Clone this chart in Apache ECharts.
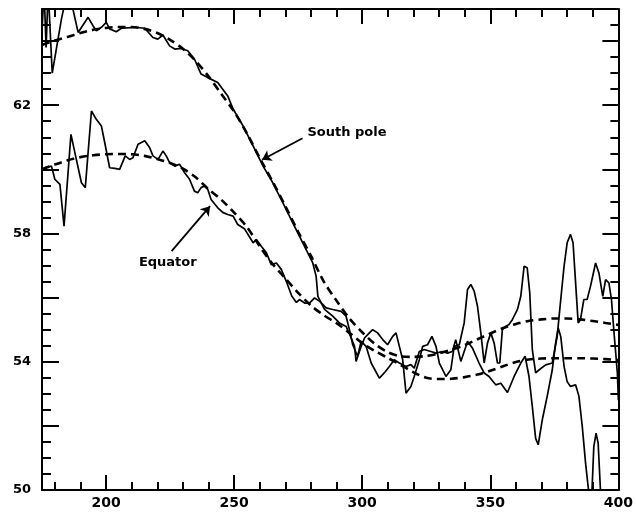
<!DOCTYPE html>
<html>
<head>
<meta charset="utf-8">
<script src="https://cdn.jsdelivr.net/npm/echarts@6/dist/echarts.min.js"></script>
<style>
html, body { margin: 0; padding: 0; background: #fff; }
#chart { width: 636px; height: 512px; }
</style>
</head>
<body>
<div id="chart"></div>
<script>
// axis ranges and tick values
let xMin = 175, xMax = 400, yMin = 50, yMax = 65;
let xLabelValues = [200, 250, 300, 350, 400];
let xMinorValues = [180, 190, 200, 210, 220, 230, 240, 250, 260, 270, 280, 290, 300, 310, 320, 330, 340, 350, 360, 370, 380, 390];
let yLabelValues = [50, 54, 58, 62];
let yMajorValues = [50, 52, 54, 56, 58, 60, 62, 64];
let yMinorValues = [50.5, 51, 51.5, 52, 52.5, 53, 53.5, 54, 54.5, 55, 55.5, 56, 56.5, 57, 57.5, 58, 58.5, 59, 59.5, 60, 60.5, 61, 61.5, 62, 62.5, 63, 63.5, 64, 64.5];

// measured curves [x, y]
let southPole = [
    [175.0, 64.3], [175.8, 65.6], [176.6, 63.8], [177.4, 65.6], [179.0, 63.0], [182.6, 64.69], [184.5, 65.4], [186.5, 65.2],
    [189.1, 64.27], [193.0, 64.74], [194.9, 64.48], [196.2, 64.32], [198.2, 64.43], [200.1, 64.58], [201.4, 64.38], [204.0, 64.29],
    [206.0, 64.40], [211.2, 64.43], [215.1, 64.40], [218.3, 64.11], [220.2, 64.06], [222.2, 64.19], [224.8, 63.85], [226.8, 63.75],
    [229.3, 63.77], [231.9, 63.70], [234.5, 63.44], [237.1, 62.97], [239.7, 62.86], [243.6, 62.71], [247.5, 62.29], [249.6, 61.88],
    [253.5, 61.35], [257.4, 60.73], [261.3, 60.10], [265.1, 59.58], [269.0, 58.96], [272.9, 58.33], [276.8, 57.71], [280.7, 57.08],
    [282.0, 56.67], [282.7, 56.04], [283.3, 55.99], [285.3, 55.63], [288.5, 55.42], [291.1, 55.21], [293.7, 55.10], [295.7, 54.74],
    [297.0, 54.48], [297.6, 54.01], [299.6, 54.48], [300.9, 54.74], [302.8, 54.90], [304.1, 55.0], [306.0, 54.90], [308.0, 54.69],
    [309.9, 54.53], [311.9, 54.79], [313.2, 54.90], [314.5, 54.48], [315.8, 54.06], [317.1, 53.02], [319.0, 53.23], [320.3, 53.54],
    [322.3, 54.06], [323.6, 54.48], [325.5, 54.53], [327.2, 54.79], [328.8, 54.48], [330.1, 53.96], [332.7, 53.54], [334.6, 53.75],
    [335.9, 54.48], [337.9, 54.53], [339.8, 55.21], [341.1, 56.25], [342.4, 56.41], [343.7, 56.20], [345.0, 55.73], [346.3, 54.9],
    [347.6, 53.96], [348.9, 54.58], [350.2, 54.90], [351.5, 54.58], [352.8, 53.96], [353.7, 53.96], [354.7, 55.0], [356.0, 55.10],
    [357.3, 55.16], [358.6, 55.31], [360.6, 55.63], [361.9, 56.04], [363.2, 56.98], [364.4, 56.93], [365.4, 56.15], [366.4, 54.38],
    [367.7, 53.65], [369.1, 53.75], [371.6, 53.9], [374.2, 53.96], [376.1, 54.79], [377.5, 55.94], [378.8, 56.98], [380.0, 57.71],
    [381.3, 57.97], [382.3, 57.71], [383.3, 56.46], [384.3, 55.21], [385.2, 55.31], [386.5, 55.94], [387.8, 55.94], [389.1, 56.35],
    [391.1, 57.08], [392.4, 56.77], [393.9, 56.04], [395.0, 56.56], [396.3, 56.46], [397.3, 55.94], [398.3, 54.9], [399.6, 53.65],
    [400.0, 52.8]
];
let equator = [
    [176.0, 60.05], [178.7, 60.10], [180.0, 59.69], [182.0, 59.53], [183.6, 58.23], [186.3, 61.09], [188.4, 60.31], [190.4, 59.58],
    [191.9, 59.43], [194.3, 61.82], [196.2, 61.56], [198.2, 61.35], [199.5, 60.83], [201.4, 60.05], [203.4, 60.03], [205.3, 60.0],
    [207.5, 60.42], [209.2, 60.31], [210.5, 60.36], [212.5, 60.78], [215.1, 60.89], [217.0, 60.68], [218.3, 60.42], [220.3, 60.31],
    [222.2, 60.57], [223.5, 60.42], [224.8, 60.21], [226.8, 60.10], [228.7, 60.16], [230.6, 59.90], [232.6, 59.69], [234.5, 59.32],
    [235.8, 59.27], [237.1, 59.43], [238.4, 59.48], [239.7, 59.38], [241.0, 59.06], [243.6, 58.80], [245.7, 58.65], [247.5, 58.59],
    [249.6, 58.54], [251.4, 58.28], [254.0, 58.15], [257.4, 57.71], [258.7, 57.81], [260.6, 57.60], [262.6, 57.40], [264.5, 57.03],
    [266.5, 57.08], [268.4, 56.88], [270.4, 56.5], [272.5, 56.05], [274.3, 55.85], [275.5, 55.94], [277.5, 55.83], [279.4, 55.83],
    [281.4, 55.99], [283.3, 55.89], [285.9, 55.68], [288.5, 55.63], [291.8, 55.57], [293.7, 55.42], [295.0, 55.0], [296.3, 54.53],
    [298.2, 54.17], [299.6, 54.64], [301.5, 54.48], [303.5, 53.96], [306.7, 53.49], [308.6, 53.65], [310.6, 53.85], [312.5, 54.06],
    [314.5, 53.96], [317.1, 53.85], [319.0, 53.91], [320.3, 53.80], [322.3, 54.32], [324.2, 54.38], [326.8, 54.32], [328.8, 54.27],
    [331.3, 54.32], [333.3, 54.27], [335.2, 54.32], [336.5, 54.69], [338.5, 54.01], [340.5, 54.48], [341.1, 54.64], [343.0, 54.43],
    [345.6, 53.96], [347.6, 53.65], [349.5, 53.54], [352.1, 53.28], [354.1, 53.33], [356.7, 53.04], [359.3, 53.54], [361.9, 53.96],
    [363.6, 54.17], [365.1, 53.54], [366.4, 52.60], [367.7, 51.61], [368.7, 51.41], [370.3, 52.19], [372.2, 52.92], [374.2, 53.75],
    [375.5, 54.58], [376.5, 55.05], [377.5, 54.79], [378.8, 53.85], [380.0, 53.38], [381.3, 53.23], [383.3, 53.28], [384.6, 52.92],
    [385.9, 51.98], [387.2, 50.83], [388.2, 50.1], [389.4, 49.4], [390.4, 51.35], [391.3, 51.77], [392.1, 51.46], [393.0, 50.0],
    [394.5, 48.8], [400.0, 48.5]
];

// fitted curves (dashed)
let fitX = [175, 180, 185, 190, 195, 200, 205, 210, 215, 220, 225, 230, 235, 240, 245, 250, 255, 260, 265, 270, 275, 280, 285,
    290, 295, 300, 305, 310, 315, 320, 325, 330, 335, 340, 345, 350, 355, 360, 365, 370, 375, 380, 385, 390, 395, 400];
let southPoleFit = [63.88, 64.02, 64.13, 64.25, 64.35, 64.41, 64.44, 64.44, 64.38, 64.25, 64.04, 63.76, 63.38, 62.90, 62.35, 61.80,
    61.12, 60.35, 59.62, 58.85, 58.05, 57.30, 56.50, 55.90, 55.35, 54.92, 54.55, 54.30, 54.17, 54.15, 54.18, 54.26, 54.38, 54.52,
    54.70, 54.88, 55.05, 55.18, 55.27, 55.32, 55.35, 55.35, 55.32, 55.27, 55.21, 55.15];
let equatorFit = [60.00, 60.15, 60.28, 60.38, 60.44, 60.47, 60.48, 60.47, 60.42, 60.32, 60.20, 60.02, 59.75, 59.38, 59.05, 58.65,
    58.20, 57.60, 57.05, 56.60, 56.15, 55.75, 55.45, 55.20, 54.90, 54.58, 54.33, 54.12, 53.90, 53.67, 53.50, 53.46, 53.47, 53.52,
    53.60, 53.72, 53.86, 53.99, 54.07, 54.10, 54.11, 54.11, 54.11, 54.10, 54.08, 54.05];

// annotations: arrow [tail, head] and label anchor
let southPoleArrow = [[276.7, 60.97], [260.9, 60.30]];
let equatorArrow = [[225.6, 57.45], [240.6, 58.85]];
let southPoleLabel = [278.6, 61.16];
let equatorLabel = [224.1, 57.08];

let font = 'DejaVu Sans';

let pairs = function (xs, ys) {
    return xs.map(function (x, i) { return [x, ys[i]]; });
};

let xAxisDef = function (position, ticks, len, main) {
    return {
        type: 'value', position: position, min: xMin, max: xMax, gridIndex: 0,
        axisLine: { show: main, onZero: false, lineStyle: { color: '#000', width: 2 } },
        splitLine: { show: false },
        axisTick: { show: true, inside: true, length: len, customValues: ticks, lineStyle: { color: '#000', width: 2 } },
        axisLabel: {
            show: main && position === 'bottom', customValues: xLabelValues, margin: 6,
            color: '#000', fontFamily: font, fontWeight: 'bold', fontSize: 14
        }
    };
};

let yAxisDef = function (position, ticks, len, main) {
    return {
        type: 'value', position: position, min: yMin, max: yMax, gridIndex: 0,
        axisLine: { show: main, onZero: false, lineStyle: { color: '#000', width: 2 } },
        splitLine: { show: false },
        axisTick: { show: true, inside: true, length: len, customValues: ticks, lineStyle: { color: '#000', width: 2 } },
        axisLabel: {
            show: main && position === 'left', customValues: yLabelValues, margin: 11,
            color: '#000', fontFamily: font, fontWeight: 'bold', fontSize: 13
        }
    };
};

let solidLine = { color: '#000', width: 1.7 };
let dashLine = { color: '#000', width: 2.6, type: [8, 5] };

let option = {
    animation: false,
    backgroundColor: '#fff',
    grid: { left: 42, right: 16, top: 9, bottom: 22 },
    xAxis: [
        xAxisDef('bottom', xLabelValues, 15, true),
        xAxisDef('bottom', xMinorValues, 8, false),
        xAxisDef('top', xLabelValues, 15, true),
        xAxisDef('top', xMinorValues, 8, false)
    ],
    yAxis: [
        yAxisDef('left', yMajorValues, 17, true),
        yAxisDef('left', yMinorValues, 9, false),
        yAxisDef('right', yMajorValues, 16, true),
        yAxisDef('right', yMinorValues, 8, false)
    ],
    series: [
        {
            name: 'South pole', type: 'line', data: southPole, showSymbol: false,
            lineStyle: solidLine, itemStyle: { color: '#000' },
            markLine: {
                silent: true, symbol: ['none', 'arrow'], symbolSize: 9,
                lineStyle: { color: '#000', width: 1.8, type: 'solid' },
                label: { show: false },
                data: [
                    [{ coord: southPoleArrow[0] }, { coord: southPoleArrow[1] }],
                    [{ coord: equatorArrow[0] }, { coord: equatorArrow[1] }]
                ]
            },
            markPoint: {
                silent: true, symbol: 'circle', symbolSize: 0,
                label: { show: true, color: '#000', fontFamily: font, fontWeight: 'bold', fontSize: 13 },
                data: [
                    { coord: southPoleLabel, label: { position: 'right', distance: 0, formatter: 'South pole' } },
                    { coord: equatorLabel, label: { position: 'inside', formatter: 'Equator' } }
                ]
            }
        },
        {
            name: 'Equator', type: 'line', data: equator, showSymbol: false,
            lineStyle: solidLine, itemStyle: { color: '#000' }
        },
        {
            name: 'South pole fit', type: 'line', data: pairs(fitX, southPoleFit), showSymbol: false, smooth: 0.3,
            lineStyle: dashLine, itemStyle: { color: '#000' }
        },
        {
            name: 'Equator fit', type: 'line', data: pairs(fitX, equatorFit), showSymbol: false, smooth: 0.3,
            lineStyle: dashLine, itemStyle: { color: '#000' }
        }
    ]
};

let chart = echarts.init(document.getElementById('chart'));
chart.setOption(option);
</script>
</body>
</html>
